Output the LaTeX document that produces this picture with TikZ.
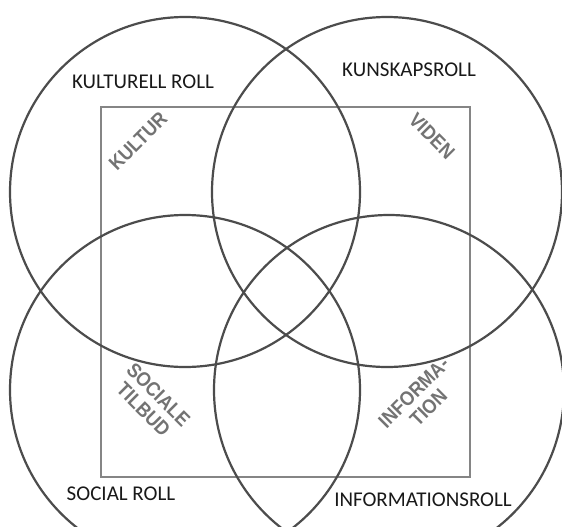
\documentclass[tikz,border=0pt]{standalone}
\usepackage{fontspec}
\setmainfont{Carlito}
\newfontfamily\lblfont[FakeStretch=0.9]{Liberation Sans Bold}
\begin{document}
\begin{tikzpicture}[x=1pt,y=-1pt,
  ring/.style={draw=black!70, line width=2.2pt},
  frame/.style={draw=black!48, line width=2.6pt},
  role/.style={inner sep=0pt, font=\fontsize{21}{25}\selectfont, text=black!90},
  area/.style={inner sep=0pt, align=center, text=black!55, font=\lblfont\fontsize{20}{21}\selectfont}]
\useasboundingbox[fill=white] (0,0) rectangle (562,527);
\draw[frame] (101,107) rectangle (470,477);
\draw[ring] (185,192) circle (175);
\draw[ring] (387,192) circle (175);
\draw[ring] (185,390) circle (175);
\draw[ring] (389,390) circle (175);
\node[role] (kr) at (143,82) {KULTURELL ROLL};
\node[role] (ks) at (409,70) {KUNSKAPSROLL};
\node[role] (sr) at (121,494) {SOCIAL ROLL};
\node[role] (ir) at (423,500) {INFORMATIONSROLL};
\node[area, rotate=45] (ku) at (138,141) {KULTUR};
\node[area, rotate=-45] (vi) at (432,136) {VIDEN};
\node[area, rotate=-45] (so) at (151,402) {SOCIALE\\TILBUD};
\node[area, rotate=45] (in) at (421,400) {INFORMA-\\TION};
\end{tikzpicture}
\end{document}
